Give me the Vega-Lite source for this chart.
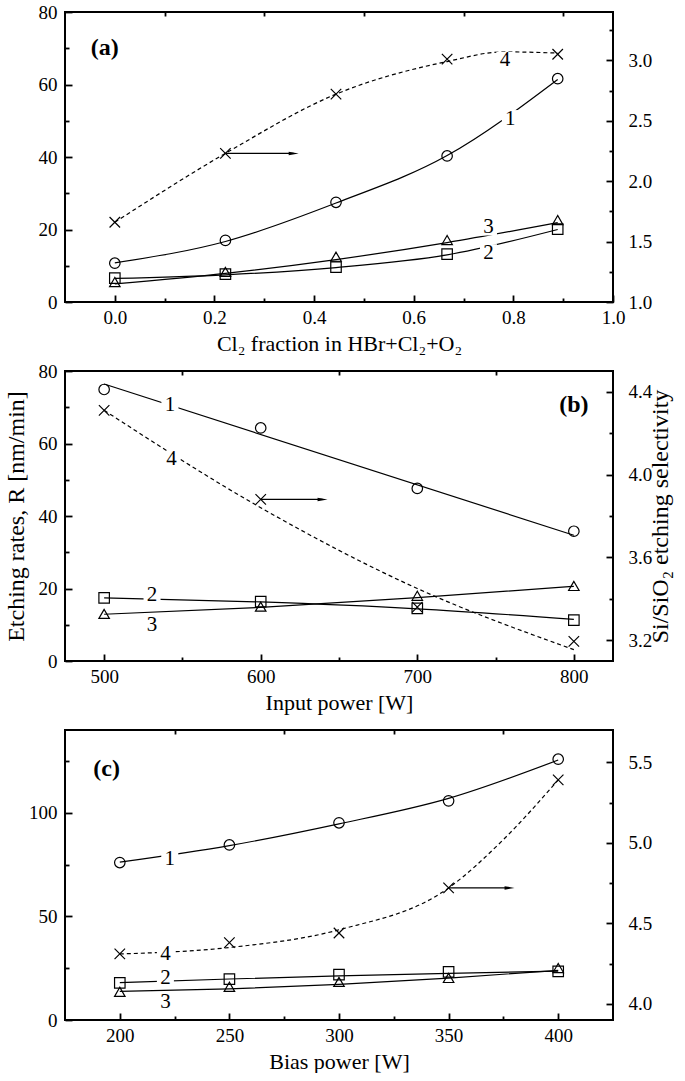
{
  "$schema": "https://vega.github.io/schema/vega-lite/v6.json",
  "padding": {"left": 2, "top": 2, "right": 0, "bottom": 0},
  "background": "white",
  "bounds": "flush",
  "spacing": 69,
  "config": {
    "font": "Liberation Serif",
    "view": {"stroke": "black", "strokeWidth": 2},
    "axis": {"ticks": true, "zindex": 1, "domain": false, "grid": false, "labelFont": "Liberation Serif", "titleFont": "Liberation Serif", "labelColor": "black", "titleColor": "black", "tickColor": "black", "tickWidth": 1.8, "labelFontSize": 19, "titleFontSize": 22, "titleFontWeight": "normal", "labelFlush": false, "labelOverlap": false},
    "text": {"font": "Liberation Serif"}
  },
  "vconcat": [
    {
      "width": 548, "height": 290,
      "data": {"values": [
        {"k":"p","s":"1","x":0,"y":10.7},{"k":"p","s":"1","x":0.222,"y":17.0},{"k":"p","s":"1","x":0.444,"y":27.5},{"k":"p","s":"1","x":0.667,"y":40.3},{"k":"p","s":"1","x":0.889,"y":61.6},
        {"k":"p","s":"2","x":0,"y":6.6},{"k":"p","s":"2","x":0.222,"y":7.7},{"k":"p","s":"2","x":0.444,"y":9.6},{"k":"p","s":"2","x":0.667,"y":13.2},{"k":"p","s":"2","x":0.889,"y":20.1},
        {"k":"p","s":"3","x":0,"y":5.5},{"k":"p","s":"3","x":0.222,"y":8.3},{"k":"p","s":"3","x":0.444,"y":12.5},{"k":"p","s":"3","x":0.667,"y":17.1},{"k":"p","s":"3","x":0.889,"y":22.6},
        {"k":"p","s":"4","x":0,"y":1.66},{"k":"p","s":"4","x":0.222,"y":2.23},{"k":"p","s":"4","x":0.444,"y":2.72},{"k":"p","s":"4","x":0.667,"y":3.01},{"k":"p","s":"4","x":0.889,"y":3.05},
        {"k":"f","s":"1","x":0,"y":10.8},{"k":"f","s":"1","x":0.222,"y":16.7},{"k":"f","s":"1","x":0.444,"y":27.3},{"k":"f","s":"1","x":0.667,"y":40.4},{"k":"f","s":"1","x":0.889,"y":61.4},
        {"k":"f","s":"2","x":0,"y":6.5},{"k":"f","s":"2","x":0.222,"y":7.5},{"k":"f","s":"2","x":0.444,"y":9.5},{"k":"f","s":"2","x":0.667,"y":13.0},{"k":"f","s":"2","x":0.889,"y":20.0},
        {"k":"f","s":"3","x":0,"y":5.0},{"k":"f","s":"3","x":0.222,"y":7.9},{"k":"f","s":"3","x":0.444,"y":11.7},{"k":"f","s":"3","x":0.667,"y":16.4},{"k":"f","s":"3","x":0.889,"y":21.9},
        {"k":"f","s":"4","x":0,"y":1.66},{"k":"f","s":"4","x":0.222,"y":2.23},{"k":"f","s":"4","x":0.444,"y":2.72},{"k":"f","s":"4","x":0.667,"y":2.99},{"k":"f","s":"4","x":0.78,"y":3.07},{"k":"f","s":"4","x":0.889,"y":3.06},
        {"k":"t","label":"1","x":0.794,"y":50.6},{"k":"t","label":"4","x":0.783,"y":66.7},{"k":"t","label":"3","x":0.75,"y":20.7},{"k":"t","label":"2","x":0.75,"y":13.6},
        {"k":"g","label":"(a)","x":-0.02,"y":70},
        {"k":"arr","x":0.222,"x2":0.359,"y":2.23}
      ]},
      "layer": [
        {
          "encoding": {
            "x": {"field":"x","type":"quantitative","scale":{"domain":[-0.1,1.0],"nice":false},"axis":{"orient":"top","values":[0,0.2,0.4,0.6,0.8,1.0],"labels":false,"title":null,"tickSize":-7}},
            "y": {"field":"y","type":"quantitative","scale":{"domain":[1,3.4],"nice":false},"axis":{"orient":"right","values":[1,1.5,2,2.5,3],"format":".1f","tickSize":-7,"labelPadding":22,"title":null}}
          },
          "layer": [
            {"transform":[{"filter":"datum.k==='f' && datum.s==='4'"}],"mark":{"type":"line","interpolate":"monotone","strokeDash":[4,3],"color":"black","strokeWidth":1.2}},
            {"transform":[{"filter":"datum.k==='p' && datum.s==='4'"}],"mark":{"type":"point","shape":"M-1,-1L1,1M-1,1L1,-1","size":110,"filled":false,"color":"black","strokeWidth":1.2,"opacity":1}},
            {"transform":[{"filter":"datum.k==='arr'"}],"mark":{"type":"rule","color":"black","strokeWidth":1.3},"encoding":{"x2":{"field":"x2"}}},
            {"transform":[{"filter":"datum.k==='arr'"}],"mark":{"type":"point","shape":"M-1,-0.35L1,0L-1,0.35Z","filled":true,"size":100,"color":"black","strokeWidth":0,"opacity":1},"encoding":{"x":{"field":"x2","type":"quantitative","axis":null}}}
          ]
        },
        {
          "encoding": {
            "x": {"field":"x","type":"quantitative","scale":{"domain":[-0.1,1.0],"nice":false},"axis":{"orient":"bottom","values":[0,0.2,0.4,0.6,0.8,1.0],"format":".1f","tickSize":-7,"labelPadding":13,"title":"Cl₂ fraction in HBr+Cl₂+O₂","titlePadding":6}},
            "y": {"field":"y","type":"quantitative","scale":{"domain":[0,80],"nice":false},"axis":{"orient":"left","values":[0,20,40,60,80],"tickSize":-7,"labelPadding":15,"title":null}}
          },
          "layer": [
            {"transform":[{"filter":"datum.k==='f' && datum.s!=='4'"}],"mark":{"type":"line","interpolate":"monotone","color":"black","strokeWidth":1.2},"encoding":{"detail":{"field":"s"}}},
            {"transform":[{"filter":"datum.k==='t'"}],"mark":{"type":"point","shape":"square","filled":true,"color":"white","size":290,"strokeWidth":0,"opacity":1}},
            {"transform":[{"filter":"datum.k==='p' && datum.s!=='4'"}],"mark":{"type":"point","filled":false,"size":110,"color":"black","strokeWidth":1.2,"opacity":1},"encoding":{"shape":{"field":"s","type":"nominal","scale":{"domain":["1","2","3"],"range":["circle","square","triangle-up"]},"legend":null}}},
            {"transform":[{"filter":"datum.k==='t'"}],"mark":{"type":"text","fontSize":21,"color":"black","align":"center","baseline":"middle"},"encoding":{"text":{"field":"label"}}},
            {"transform":[{"filter":"datum.k==='g'"}],"mark":{"type":"text","fontSize":24,"fontWeight":"bold","color":"black","align":"center","baseline":"middle"},"encoding":{"text":{"field":"label"}}}
          ]
        },
        {
          "transform":[{"filter":"datum.k==='g'"}],
          "mark":{"type":"point","opacity":0},
          "encoding": {
            "x": {"field":"x","type":"quantitative","scale":{"domain":[-0.1,1.0],"nice":false},"axis":{"orient":"bottom","values":[0.1,0.3,0.5,0.7,0.9],"labels":false,"tickSize":-4,"title":null}},
            "y": {"field":"y","type":"quantitative","scale":{"domain":[0,80],"nice":false},"axis":{"orient":"left","values":[10,30,50,70],"labels":false,"tickSize":-4,"title":null}}
          }
        },
        {
          "transform":[{"filter":"datum.k==='arr'"}],
          "mark":{"type":"point","opacity":0},
          "encoding": {
            "x": {"field":"x","type":"quantitative","scale":{"domain":[-0.1,1.0],"nice":false},"axis":{"orient":"top","values":[0.1,0.3,0.5,0.7,0.9],"labels":false,"tickSize":-4,"title":null}},
            "y": {"field":"y","type":"quantitative","scale":{"domain":[1,3.4],"nice":false},"axis":{"orient":"right","values":[1.25,1.75,2.25,2.75,3.25],"labels":false,"tickSize":-4,"title":null}}
          }
        }
      ],
      "resolve": {"scale": {"y": "independent"}, "axis": {"x": "independent", "y": "independent"}}
    },
    {
      "width": 548, "height": 290,
      "data": {"values": [
        {"k":"p","s":"1","x":500,"y":74.9},{"k":"p","s":"1","x":600,"y":64.3},{"k":"p","s":"1","x":700,"y":47.6},{"k":"p","s":"1","x":800,"y":35.8},
        {"k":"p","s":"2","x":500,"y":17.4},{"k":"p","s":"2","x":600,"y":16.4},{"k":"p","s":"2","x":700,"y":14.5},{"k":"p","s":"2","x":800,"y":11.3},
        {"k":"p","s":"3","x":500,"y":13.0},{"k":"p","s":"3","x":600,"y":15.0},{"k":"p","s":"3","x":700,"y":18.0},{"k":"p","s":"3","x":800,"y":20.7},
        {"k":"p","s":"4","x":500,"y":4.31},{"k":"p","s":"4","x":600,"y":3.88},{"k":"p","s":"4","x":700,"y":3.36},{"k":"p","s":"4","x":800,"y":3.195},
        {"k":"f","s":"1","x":500,"y":76.4},{"k":"f","s":"1","x":800,"y":34.7},
        {"k":"f","s":"2","x":500,"y":17.4},{"k":"f","s":"2","x":600,"y":16.3},{"k":"f","s":"2","x":700,"y":14.4},{"k":"f","s":"2","x":800,"y":11.5},
        {"k":"f","s":"3","x":500,"y":12.9},{"k":"f","s":"3","x":600,"y":14.8},{"k":"f","s":"3","x":700,"y":17.5},{"k":"f","s":"3","x":800,"y":20.6},
        {"k":"f","s":"4","x":500,"y":4.31},{"k":"f","s":"4","x":600,"y":3.84},{"k":"f","s":"4","x":700,"y":3.45},{"k":"f","s":"4","x":800,"y":3.155},
        {"k":"t","label":"1","x":542,"y":70.7},{"k":"t","label":"4","x":543,"y":55.6},{"k":"t","label":"2","x":530.6,"y":18.2},{"k":"t","label":"3","x":530.6,"y":10.0},
        {"k":"g","label":"(b)","x":800,"y":70.7},
        {"k":"arr","x":600,"x2":639.5,"y":3.88}
      ]},
      "layer": [
        {
          "encoding": {
            "x": {"field":"x","type":"quantitative","scale":{"domain":[475,825],"nice":false},"axis":{"orient":"top","values":[500,600,700,800],"labels":false,"title":null,"tickSize":-7}},
            "y": {"field":"y","type":"quantitative","scale":{"domain":[3.1,4.5],"nice":false},"axis":{"orient":"right","values":[3.2,3.6,4.0,4.4],"format":".1f","tickSize":-7,"labelPadding":22,"title":"Si/SiO₂ etching selectivity","titleFontSize":24,"titleAngle":270,"titleBaseline":"top","titlePadding":-3}}
          },
          "layer": [
            {"transform":[{"filter":"datum.k==='f' && datum.s==='4'"}],"mark":{"type":"line","interpolate":"monotone","strokeDash":[4,3],"color":"black","strokeWidth":1.2}},
            {"transform":[{"filter":"datum.k==='p' && datum.s==='4'"}],"mark":{"type":"point","shape":"M-1,-1L1,1M-1,1L1,-1","size":110,"filled":false,"color":"black","strokeWidth":1.2,"opacity":1}},
            {"transform":[{"filter":"datum.k==='arr'"}],"mark":{"type":"rule","color":"black","strokeWidth":1.3},"encoding":{"x2":{"field":"x2"}}},
            {"transform":[{"filter":"datum.k==='arr'"}],"mark":{"type":"point","shape":"M-1,-0.35L1,0L-1,0.35Z","filled":true,"size":100,"color":"black","strokeWidth":0,"opacity":1},"encoding":{"x":{"field":"x2","type":"quantitative","axis":null}}}
          ]
        },
        {
          "encoding": {
            "x": {"field":"x","type":"quantitative","scale":{"domain":[475,825],"nice":false},"axis":{"orient":"bottom","values":[500,600,700,800],"tickSize":-7,"labelPadding":13,"title":"Input power [W]","titlePadding":6}},
            "y": {"field":"y","type":"quantitative","scale":{"domain":[0,80],"nice":false},"axis":{"orient":"left","values":[0,20,40,60,80],"tickSize":-7,"labelPadding":15,"title":"Etching rates, R [nm/min]","titleFontSize":24,"titlePadding":10}}
          },
          "layer": [
            {"transform":[{"filter":"datum.k==='f' && datum.s!=='4'"}],"mark":{"type":"line","interpolate":"monotone","color":"black","strokeWidth":1.2},"encoding":{"detail":{"field":"s"}}},
            {"transform":[{"filter":"datum.k==='t'"}],"mark":{"type":"point","shape":"square","filled":true,"color":"white","size":290,"strokeWidth":0,"opacity":1}},
            {"transform":[{"filter":"datum.k==='p' && datum.s!=='4'"}],"mark":{"type":"point","filled":false,"size":110,"color":"black","strokeWidth":1.2,"opacity":1},"encoding":{"shape":{"field":"s","type":"nominal","scale":{"domain":["1","2","3"],"range":["circle","square","triangle-up"]},"legend":null}}},
            {"transform":[{"filter":"datum.k==='t'"}],"mark":{"type":"text","fontSize":21,"color":"black","align":"center","baseline":"middle"},"encoding":{"text":{"field":"label"}}},
            {"transform":[{"filter":"datum.k==='g'"}],"mark":{"type":"text","fontSize":24,"fontWeight":"bold","color":"black","align":"center","baseline":"middle"},"encoding":{"text":{"field":"label"}}}
          ]
        },
        {
          "transform":[{"filter":"datum.k==='g'"}],
          "mark":{"type":"point","opacity":0},
          "encoding": {
            "x": {"field":"x","type":"quantitative","scale":{"domain":[475,825],"nice":false},"axis":{"orient":"bottom","values":[550,650,750],"labels":false,"tickSize":-4,"title":null}},
            "y": {"field":"y","type":"quantitative","scale":{"domain":[0,80],"nice":false},"axis":{"orient":"left","values":[10,30,50,70],"labels":false,"tickSize":-4,"title":null}}
          }
        },
        {
          "transform":[{"filter":"datum.k==='arr'"}],
          "mark":{"type":"point","opacity":0},
          "encoding": {
            "x": {"field":"x","type":"quantitative","scale":{"domain":[475,825],"nice":false},"axis":{"orient":"top","values":[550,650,750],"labels":false,"tickSize":-4,"title":null}},
            "y": {"field":"y","type":"quantitative","scale":{"domain":[3.1,4.5],"nice":false},"axis":{"orient":"right","values":[3.4,3.8,4.2],"labels":false,"tickSize":-4,"title":null}}
          }
        }
      ],
      "resolve": {"scale": {"y": "independent"}, "axis": {"x": "independent", "y": "independent"}}
    },
    {
      "width": 548, "height": 290,
      "data": {"values": [
        {"k":"p","s":"1","x":200,"y":76.0},{"k":"p","s":"1","x":250,"y":84.5},{"k":"p","s":"1","x":300,"y":95.2},{"k":"p","s":"1","x":350,"y":105.8},{"k":"p","s":"1","x":400,"y":125.9},
        {"k":"p","s":"2","x":200,"y":17.9},{"k":"p","s":"2","x":250,"y":19.7},{"k":"p","s":"2","x":300,"y":21.9},{"k":"p","s":"2","x":350,"y":23.2},{"k":"p","s":"2","x":400,"y":23.5},
        {"k":"p","s":"3","x":200,"y":13.6},{"k":"p","s":"3","x":250,"y":16.0},{"k":"p","s":"3","x":300,"y":18.4},{"k":"p","s":"3","x":350,"y":20.3},{"k":"p","s":"3","x":400,"y":25.1},
        {"k":"p","s":"4","x":200,"y":4.31},{"k":"p","s":"4","x":250,"y":4.38},{"k":"p","s":"4","x":300,"y":4.44},{"k":"p","s":"4","x":350,"y":4.72},{"k":"p","s":"4","x":400,"y":5.39},
        {"k":"f","s":"1","x":200,"y":76.2},{"k":"f","s":"1","x":250,"y":84.2},{"k":"f","s":"1","x":300,"y":94.7},{"k":"f","s":"1","x":350,"y":107.0},{"k":"f","s":"1","x":400,"y":125.5},
        {"k":"f","s":"2","x":200,"y":18.0},{"k":"f","s":"2","x":250,"y":19.8},{"k":"f","s":"2","x":300,"y":21.3},{"k":"f","s":"2","x":350,"y":22.5},{"k":"f","s":"2","x":400,"y":23.6},
        {"k":"f","s":"3","x":200,"y":13.8},{"k":"f","s":"3","x":250,"y":15.0},{"k":"f","s":"3","x":300,"y":17.2},{"k":"f","s":"3","x":350,"y":20.2},{"k":"f","s":"3","x":400,"y":24.0},
        {"k":"f","s":"4","x":200,"y":4.31},{"k":"f","s":"4","x":250,"y":4.35},{"k":"f","s":"4","x":300,"y":4.46},{"k":"f","s":"4","x":350,"y":4.72},{"k":"f","s":"4","x":375,"y":5.02},{"k":"f","s":"4","x":400,"y":5.39},
        {"k":"t","label":"1","x":222.8,"y":77.5},{"k":"t","label":"4","x":220.8,"y":32.1},{"k":"t","label":"2","x":220.8,"y":20.4},{"k":"t","label":"3","x":220.8,"y":8.5},
        {"k":"g","label":"(c)","x":194,"y":121},
        {"k":"arr","x":350,"x2":377.8,"y":4.72}
      ]},
      "layer": [
        {
          "encoding": {
            "x": {"field":"x","type":"quantitative","scale":{"domain":[175,425],"nice":false},"axis":{"orient":"top","values":[200,250,300,350,400],"labels":false,"title":null,"tickSize":-7}},
            "y": {"field":"y","type":"quantitative","scale":{"domain":[3.9,5.7],"nice":false},"axis":{"orient":"right","values":[4.0,4.5,5.0,5.5],"format":".1f","tickSize":-7,"labelPadding":22,"title":null}}
          },
          "layer": [
            {"transform":[{"filter":"datum.k==='f' && datum.s==='4'"}],"mark":{"type":"line","interpolate":"monotone","strokeDash":[4,3],"color":"black","strokeWidth":1.2}},
            {"transform":[{"filter":"datum.k==='p' && datum.s==='4'"}],"mark":{"type":"point","shape":"M-1,-1L1,1M-1,1L1,-1","size":110,"filled":false,"color":"black","strokeWidth":1.2,"opacity":1}},
            {"transform":[{"filter":"datum.k==='arr'"}],"mark":{"type":"rule","color":"black","strokeWidth":1.3},"encoding":{"x2":{"field":"x2"}}},
            {"transform":[{"filter":"datum.k==='arr'"}],"mark":{"type":"point","shape":"M-1,-0.35L1,0L-1,0.35Z","filled":true,"size":100,"color":"black","strokeWidth":0,"opacity":1},"encoding":{"x":{"field":"x2","type":"quantitative","axis":null}}}
          ]
        },
        {
          "encoding": {
            "x": {"field":"x","type":"quantitative","scale":{"domain":[175,425],"nice":false},"axis":{"orient":"bottom","values":[200,250,300,350,400],"tickSize":-7,"labelPadding":13,"title":"Bias power [W]","titlePadding":6}},
            "y": {"field":"y","type":"quantitative","scale":{"domain":[0,140],"nice":false},"axis":{"orient":"left","values":[0,50,100],"tickSize":-7,"labelPadding":15,"title":null}}
          },
          "layer": [
            {"transform":[{"filter":"datum.k==='f' && datum.s!=='4'"}],"mark":{"type":"line","interpolate":"monotone","color":"black","strokeWidth":1.2},"encoding":{"detail":{"field":"s"}}},
            {"transform":[{"filter":"datum.k==='t'"}],"mark":{"type":"point","shape":"square","filled":true,"color":"white","size":290,"strokeWidth":0,"opacity":1}},
            {"transform":[{"filter":"datum.k==='p' && datum.s!=='4'"}],"mark":{"type":"point","filled":false,"size":110,"color":"black","strokeWidth":1.2,"opacity":1},"encoding":{"shape":{"field":"s","type":"nominal","scale":{"domain":["1","2","3"],"range":["circle","square","triangle-up"]},"legend":null}}},
            {"transform":[{"filter":"datum.k==='t'"}],"mark":{"type":"text","fontSize":21,"color":"black","align":"center","baseline":"middle"},"encoding":{"text":{"field":"label"}}},
            {"transform":[{"filter":"datum.k==='g'"}],"mark":{"type":"text","fontSize":24,"fontWeight":"bold","color":"black","align":"center","baseline":"middle"},"encoding":{"text":{"field":"label"}}}
          ]
        },
        {
          "transform":[{"filter":"datum.k==='g'"}],
          "mark":{"type":"point","opacity":0},
          "encoding": {
            "x": {"field":"x","type":"quantitative","scale":{"domain":[175,425],"nice":false},"axis":{"orient":"bottom","values":[225,275,325,375],"labels":false,"tickSize":-4,"title":null}},
            "y": {"field":"y","type":"quantitative","scale":{"domain":[0,140],"nice":false},"axis":{"orient":"left","values":[25,75,125],"labels":false,"tickSize":-4,"title":null}}
          }
        },
        {
          "transform":[{"filter":"datum.k==='arr'"}],
          "mark":{"type":"point","opacity":0},
          "encoding": {
            "x": {"field":"x","type":"quantitative","scale":{"domain":[175,425],"nice":false},"axis":{"orient":"top","values":[225,275,325,375],"labels":false,"tickSize":-4,"title":null}},
            "y": {"field":"y","type":"quantitative","scale":{"domain":[3.9,5.7],"nice":false},"axis":{"orient":"right","values":[4.25,4.75,5.25],"labels":false,"tickSize":-4,"title":null}}
          }
        }
      ],
      "resolve": {"scale": {"y": "independent"}, "axis": {"x": "independent", "y": "independent"}}
    }
  ]
}
